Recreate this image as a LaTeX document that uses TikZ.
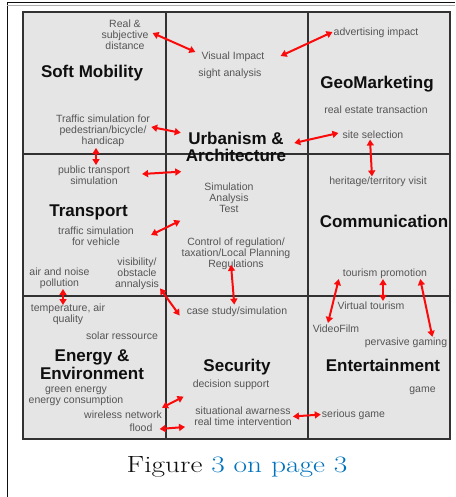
\documentclass[tikz,border=0pt]{standalone}
\usepackage{fontspec}
\setsansfont{Liberation Sans}
\usetikzlibrary{arrows.meta,calc}
\definecolor{rouge}{RGB}{250,10,10}
\definecolor{gris}{RGB}{50,50,50}
\definecolor{grisclair}{RGB}{229,229,229}
\definecolor{gristexte}{RGB}{85,85,85}
\definecolor{noir}{RGB}{15,15,15}
\definecolor{bleu}{RGB}{0,114,188}

\begin{document}
\begin{tikzpicture}[x=1pt,y=-1pt,
  petit/.style={font=\sffamily\fontsize{10.5}{10.8}\selectfont,text=gristexte,align=center,inner sep=1pt},
  titre/.style={font=\sffamily\bfseries\fontsize{17}{17.5}\selectfont,text=noir,align=center,inner sep=1pt},
  lien/.style={rouge,line width=2pt,{Triangle[length=6pt,width=7pt]}-{Triangle[length=6pt,width=7pt]}}]
\useasboundingbox (0,0) rectangle (455,497);
% cadre et grille
\draw[noir,line width=1pt] (7,497) -- (7,3) -- (455,3);
\draw[gris!40,line width=0.6pt] (7,5.2) -- (455,5.2);
\fill[grisclair] (23,12) rectangle (450,439);
\draw[gris,line width=1.2pt] (23,12) rectangle (450,439);
\draw[gris,line width=1.2pt] (166,12) -- (166,439) (308,12) -- (308,439)
  (23,154) -- (450,154) (23,296) -- (450,296);
% Soft Mobility
\node[petit] (sub) at (125,35) {Real \&\\subjective\\distance};
\node[titre] (soft) at (92,73) {Soft Mobility};
\node[petit] (tsp) at (103,131) {Traffic simulation for\\pedestrian/bicycle/\\handicap};
% Urbanism
\node[petit] (vis) at (233,57) {Visual Impact};
\node[petit] (sight) at (230,73.5) {sight analysis};
\node[titre] (urb) at (236,147) {Urbanism \&\\Architecture};
\node[petit] (sim) at (229,197.5) {Simulation\\Analysis\\Test};
\node[petit] (ctrl) at (236,254) {Control of regulation/\\taxation/Local Planning\\Regulations};
% GeoMarketing
\node[petit] (adv) at (376,33) {advertising impact};
\node[titre] (geo) at (377,84) {GeoMarketing};
\node[petit] (real) at (376,110) {real estate transaction};
\node[petit] (site) at (373,134.5) {site selection};
% Transport
\node[petit] (pts) at (94,175.5) {public transport\\simulation};
\node[titre] (trans) at (88.5,212) {Transport};
\node[petit] (tsv) at (96,236.5) {traffic simulation\\for vehicle};
\node[petit] (visib) at (137,274) {visibility/\\obstacle\\annalysis};
\node[petit] (anp) at (59.5,278.5) {air and noise\\pollution};
% Communication
\node[petit] (her) at (378,182) {heritage/territory visit};
\node[titre] (comm) at (384,221.5) {Communication};
\node[petit] (tp) at (385,274) {tourism promotion};
% Energy
\node[petit] (taq) at (68,314.5) {temperature, air\\quality};
\node[petit] (sol) at (122,336) {solar ressource};
\node[titre] (ener) at (92,364.5) {Energy \&\\Environment};
\node[petit] (green) at (76,396.5) {green energy\\energy consumption};
\node[petit] (wn) at (123,414.5) {wireless network};
\node[petit] (flood) at (141,427.5) {flood};
% Security
\node[petit] (case) at (237,312) {case study/simulation};
\node[titre] (secu) at (237,367) {Security};
\node[petit] (ds) at (231,385) {decision support};
\node[petit] (sa) at (243,416.5) {situational awarness\\real time intervention};
% Entertainment
\node[petit] (vt) at (371,306) {Virtual tourism};
\node[petit] (vf) at (336,329) {VideoFilm};
\node[petit] (pg) at (406,343) {pervasive gaming};
\node[titre] (ent) at (383,365.5) {Entertainment};
\node[petit] (game) at (422.5,391) {game};
\node[petit] (sg) at (353.5,414.5) {serious game};
% liens
\draw[lien] ($(sub.east)+(3,-2)$) -- ($(vis.west)+(-5,-5)$);
\draw[lien] ($(vis.east)+(15,-1)$) -- ($(adv.west)+(0,-1)$);
\draw[lien] ($(tsp.east)+(0,-4)$) -- ($(urb.north west)+(-4,2)$);
\draw[lien] ($(urb.east)+(7,-4)$) -- ($(site.west)+(-3,-1.5)$);
\draw[lien] ($(tsp.south)+(-7,0)$) -- ($(pts.north)+(2,0)$);
\draw[lien] ($(pts.east)+(11,-1.5)$) -- ($(sim.north west)+(-22,-10)$);
\draw[lien] ($(tsv.east)+(16,-1.5)$) -- ($(sim.south west)+(-23,7.3)$);
\draw[lien] ($(visib.south east)+(0,-2.5)$) -- ($(case.west)+(-6,3.5)$);
\draw[lien] ($(ctrl.south)+(-5,-6)$) -- ($(case.north)+(-2.7,-1.3)$);
\draw[lien] ($(site.south)+(-3,0)$) -- ($(her.north)+(-6,0.5)$);
\draw[lien] ($(tp.south west)+(-3,-1)$) -- ($(vf.north)+(-8,-1)$);
\draw[lien] ($(tp.south)+(-2,-1)$) -- ($(vt.north)+(12,0)$);
\draw[lien] ($(tp.south east)+(-8,-1)$) -- ($(pg.north east)+(-16,0)$);
\draw[lien] ($(anp.south)+(3.5,-1)$) -- ($(taq.north)+(-5,2)$);
\draw[lien] ($(wn.north east)+(-1,-1.7)$) -- ($(ds.south west)+(-8,5.5)$);
\draw[lien] ($(flood.east)+(6,1.5)$) -- ($(sa.south west)+(-8,0)$);
\draw[lien] (sa.east) -- (sg.west);
% legende
\node[font=\fontsize{23.5}{24}\selectfont,text=noir] (fig) at (237,467)
  {\scalebox{1.25}[1]{Figure \textcolor{bleu}{\oldstylenums{3} on page \oldstylenums{3}}}};
\end{tikzpicture}
\end{document}
